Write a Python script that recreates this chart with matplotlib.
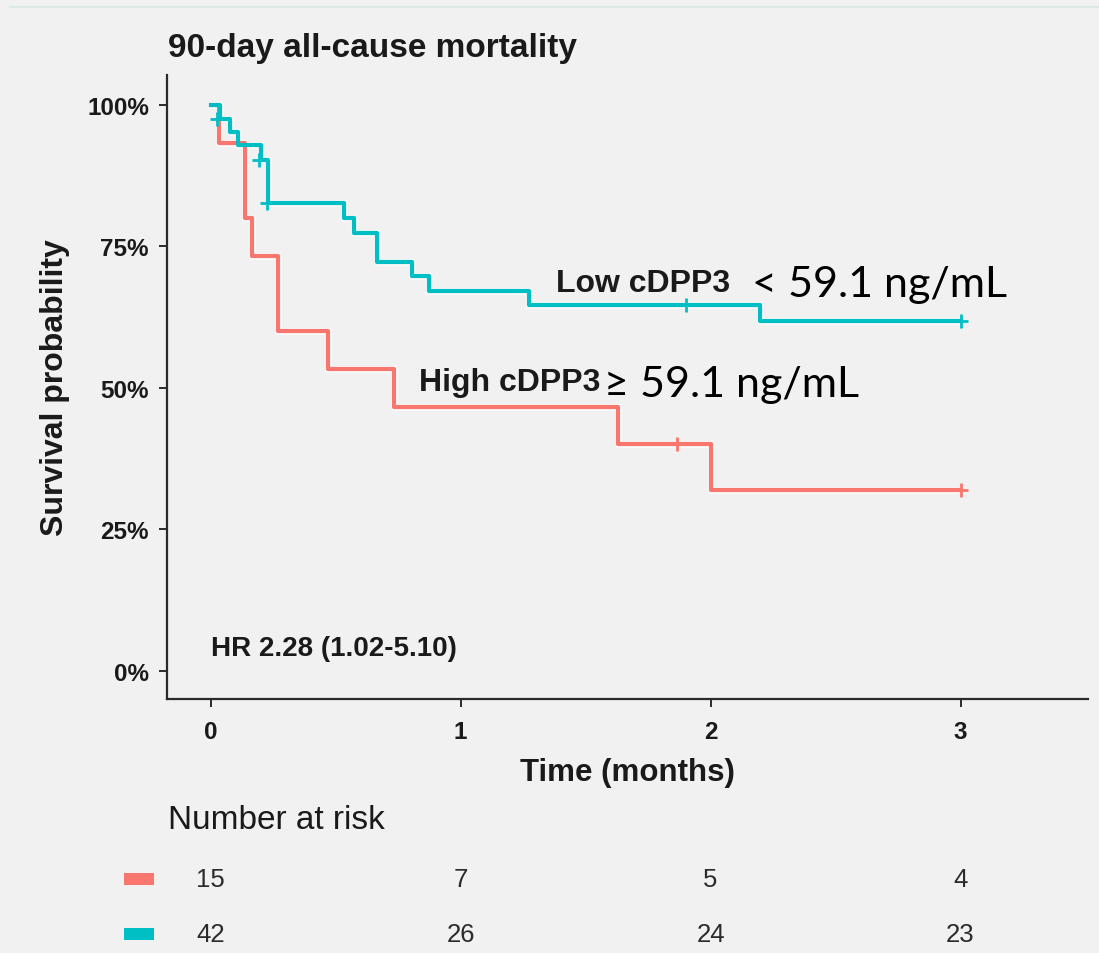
import matplotlib
matplotlib.use("Agg")
import matplotlib.pyplot as plt
import matplotlib.transforms as mtransforms
from matplotlib.lines import Line2D
from matplotlib.patches import Rectangle
from matplotlib import font_manager

# ---- data -------------------------------------------------------------
groups = ["High cDPP3", "Low cDPP3"]
group_colors = ["#F8766D", "#00BFC4"]

# Kaplan-Meier step curves (event times in months, survival after each step)
high_times = [0.0, 0.032, 0.136, 0.164, 0.271, 0.471, 0.734, 1.631, 2.002, 3.0]
high_surv = [1.0, 0.9333, 0.80, 0.7333, 0.60, 0.5333, 0.4667, 0.40, 0.32, 0.32]
high_censor_t = [1.867, 3.0]
high_censor_s = [0.40, 0.32]

low_times = [0.0, 0.036, 0.076, 0.108, 0.203, 0.231, 0.535, 0.574, 0.666,
             0.806, 0.874, 1.272, 2.198, 3.0]
low_surv = [1.0, 0.976, 0.952, 0.929, 0.903, 0.827, 0.801, 0.774, 0.723,
            0.698, 0.672, 0.646, 0.619, 0.619]
low_censor_t = [0.025, 0.195, 0.227, 1.903, 3.0]
low_censor_s = [0.976, 0.903, 0.827, 0.646, 0.619]

risk_times = [0, 1, 2, 3]
risk_high = [15, 7, 5, 4]
risk_low = [42, 26, 24, 23]

y_ticks = [0.0, 0.25, 0.50, 0.75, 1.0]
y_ticklabels = ["0%", "25%", "50%", "75%", "100%"]
x_ticks = [0, 1, 2, 3]

title = "90-day all-cause mortality"
hr_text = "HR 2.28 (1.02-5.10)"

# ---- style ------------------------------------------------------------
available = {f.name for f in font_manager.fontManager.ttflist}
SANS = "Liberation Sans" if "Liberation Sans" in available else "DejaVu Sans"
for cand in ["Gill Sans", "Gill Sans MT", "Lato", "Open Sans"]:
    if cand in available:
        HUM = cand
        break
else:
    HUM = SANS

BG = "#F1F1F1"
INK = "#1A1A1A"

W, H, DPI = 1099, 954, 100
fig = plt.figure(figsize=(W / DPI, H / DPI), dpi=DPI, facecolor=BG)

def fx(px):
    return px / W

def fy(py):
    return 1 - py / H

ax = fig.add_axes([fx(167), fy(700), fx(1088) - fx(167), fy(76) - fy(700)])
ax.set_facecolor(BG)

for t, s, ct, cs, col in [(high_times, high_surv, high_censor_t, high_censor_s, group_colors[0]),
                          (low_times, low_surv, low_censor_t, low_censor_s, group_colors[1])]:
    ax.step(t, s, where="post", color="white", lw=5.2, alpha=0.6, zorder=2)
    ax.step(t, s, where="post", color=col, lw=3.0, zorder=3)
    ax.plot(ct, cs, ls="none", marker="+", ms=10, mew=2, color=col, zorder=4)

ax.set_xlim(-0.175, 3.51)
ax.set_ylim(-0.05, 1.053)
ax.set_yticks(y_ticks)
ax.set_yticklabels(y_ticklabels)
ax.set_xticks(x_ticks)
ax.set_xticklabels([str(v) for v in x_ticks])

for side in ["top", "right"]:
    ax.spines[side].set_visible(False)
for side in ["left", "bottom"]:
    ax.spines[side].set_color("#2B2B2B")
    ax.spines[side].set_linewidth(1.6)
ax.tick_params(axis="both", length=6, width=1.4, color="#2B2B2B",
               labelcolor=INK)
ax.tick_params(axis="y", pad=7)
ax.tick_params(axis="x", pad=9)
for lab in ax.get_xticklabels() + ax.get_yticklabels():
    lab.set_fontfamily(SANS)
    lab.set_fontweight("bold")
    lab.set_fontsize(17.5)

ax.set_xlabel("Time (months)", fontsize=22.5, fontweight="bold", family=SANS,
              color=INK, labelpad=10)
ax.set_ylabel("Survival probability", fontsize=23, fontweight="bold",
              family=SANS, color=INK, labelpad=12)

fig.text(fx(168), fy(49), title, fontsize=24, fontweight="bold", family=SANS,
         color=INK, ha="left", va="center")

# curve labels
ax.text(1.38, 0.686, "Low cDPP3", fontsize=23, fontweight="bold", family=SANS,
        color=INK, ha="left", va="center")
ax.text(2.166, 0.683, "< 59.1 ng/mL", fontsize=31, family=HUM, color="black",
        ha="left", va="center")
ax.text(0.834, 0.51, "High cDPP3", fontsize=23, fontweight="bold", family=SANS,
        color=INK, ha="left", va="center")
ax.text(1.572, 0.507, "\u2265 59.1 ng/mL", fontsize=31, family=HUM, color="black",
        ha="left", va="center")

ax.text(0.0, 0.04, hr_text, fontsize=20, fontweight="bold", family=SANS,
        color=INK, ha="left", va="center")

# faint rule along the top edge
fig.add_artist(Line2D([fx(10), 1.0], [fy(8), fy(8)], color="#DCE8E3", lw=1.5))

# number at risk table
fig.text(fx(168), fy(821), "Number at risk", fontsize=24, family=SANS,
         color="#1A1A1A", ha="left", va="center")
blend = mtransforms.blended_transform_factory(ax.transData, fig.transFigure)
for row_y, counts, col in [(880, risk_high, group_colors[0]),
                           (935, risk_low, group_colors[1])]:
    fig.add_artist(Rectangle((fx(124), fy(row_y) - 0.006), fx(30), 0.012,
                             facecolor=col, edgecolor="none"))
    for t, n in zip(risk_times, counts):
        fig.text(t, fy(row_y), str(n), transform=blend, fontsize=18.5,
                 family=SANS, color="#2B2B2B", ha="center", va="center")

fig.savefig("out.png", dpi=DPI, facecolor=BG)
